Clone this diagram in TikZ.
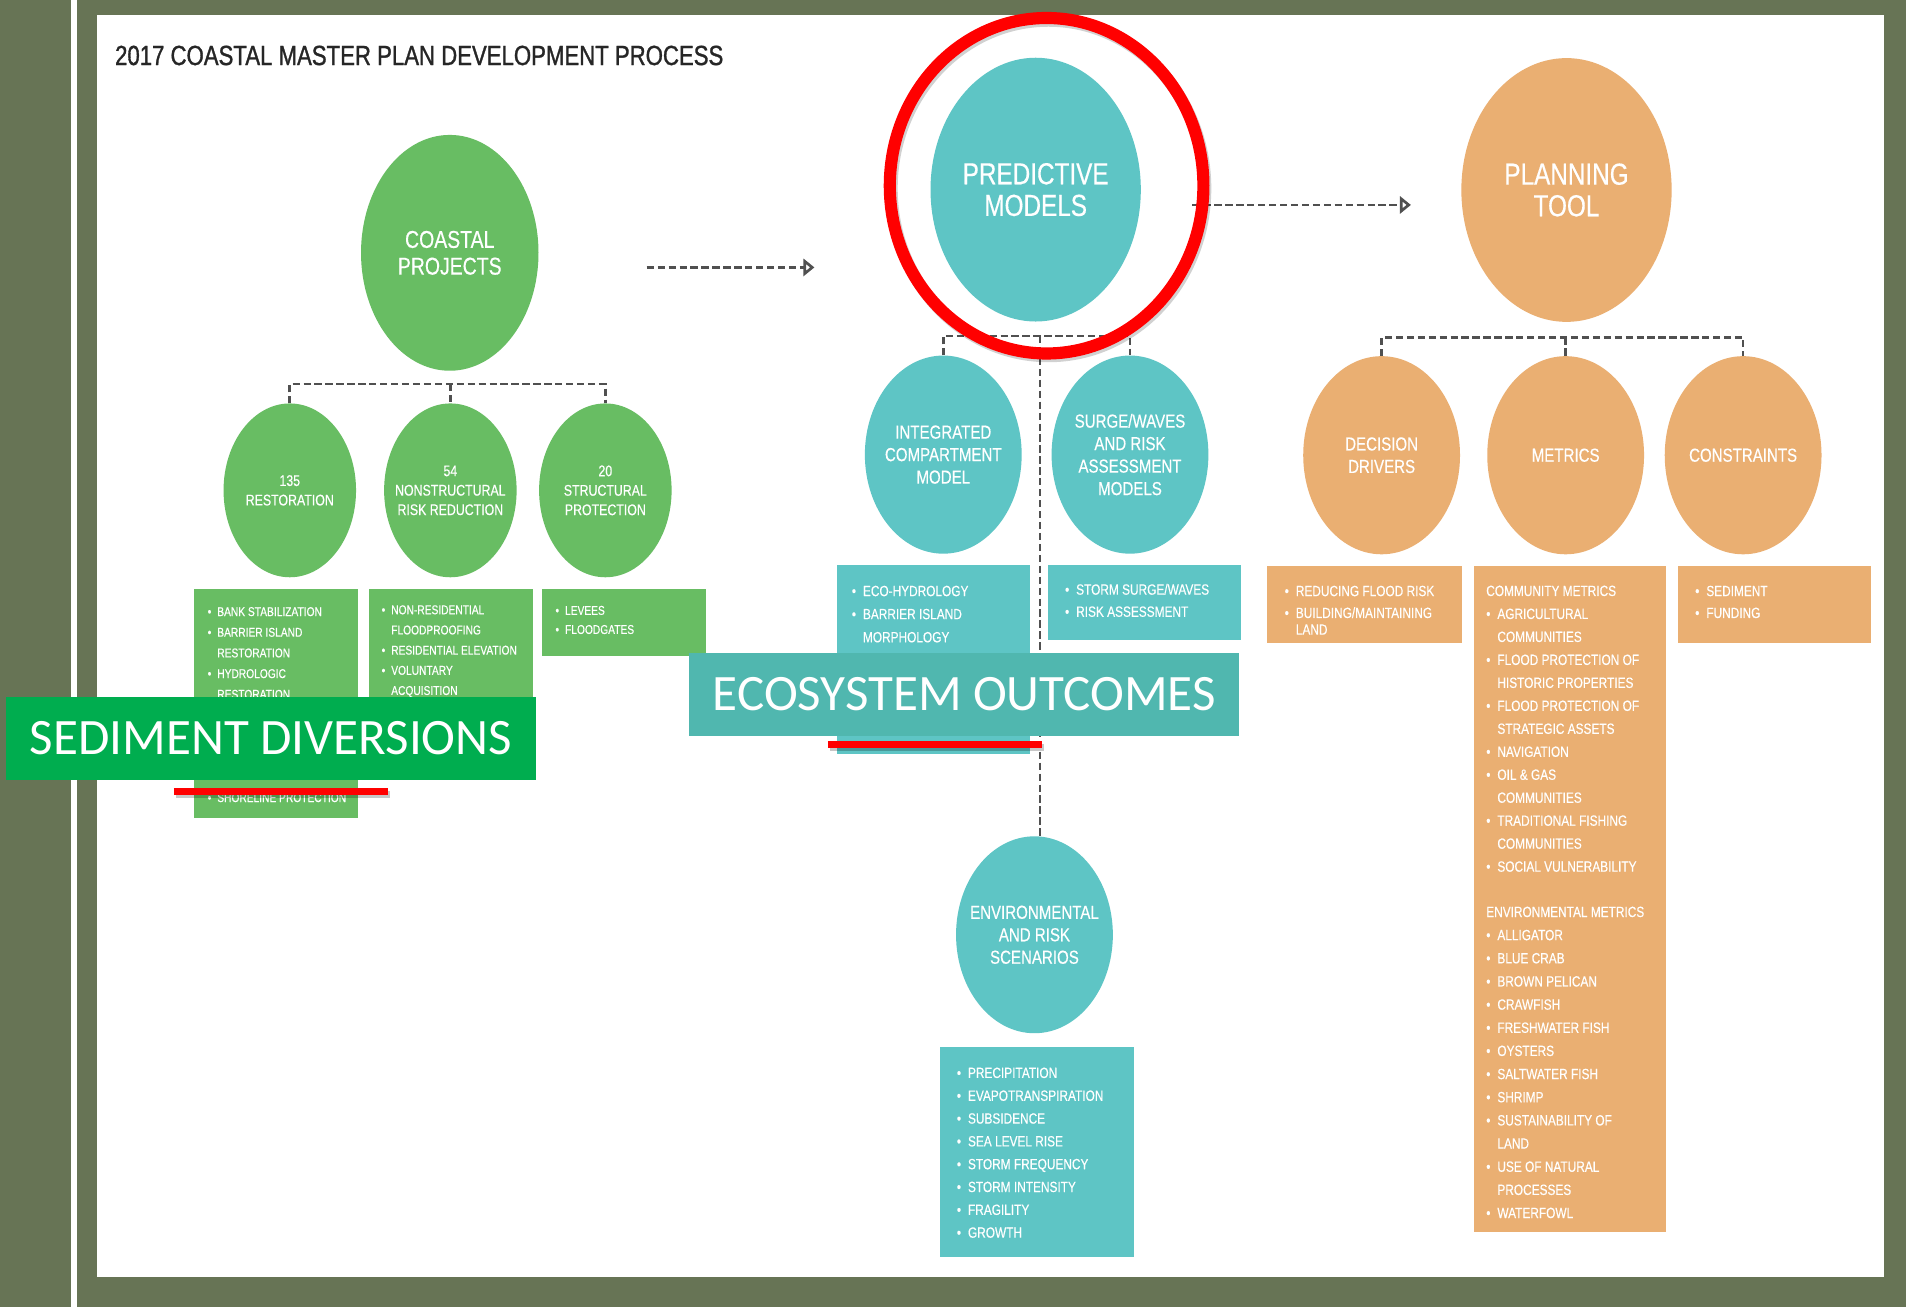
\documentclass[tikz,border=0pt]{standalone}
\usepackage{fontspec}
\setmainfont{Liberation Sans}
\newfontfamily\condfont{Liberation Sans}[FakeStretch=0.8,FakeBold=0.4]
\newfontfamily\titlefont{Liberation Sans}[FakeStretch=0.8,FakeBold=1.1]
\newfontfamily\banfont{Carlito}
\usetikzlibrary{arrows.meta,shapes.geometric}
\definecolor{framegreen}{RGB}{103,116,85}
\definecolor{projgreen}{RGB}{104,189,99}
\definecolor{modelteal}{RGB}{94,197,197}
\definecolor{toolorange}{RGB}{234,175,114}
\definecolor{bangreen}{RGB}{0,173,79}
\definecolor{banteal}{RGB}{80,183,175}
\definecolor{dashgray}{RGB}{80,80,80}
\newcommand{\setfs}[2]{\fontsize{#1}{#2}\selectfont}
\newcommand{\bul}{\makebox[0.75em][l]{\textbullet}}
\newcommand{\ind}{\hspace*{0.75em}}

\begin{document}
\begin{tikzpicture}[x=1pt,y=-1pt,
    ell/.style={ellipse,inner sep=0pt},
    bigell/.style={ell,minimum width=173pt,minimum height=217pt},
    subell/.style={ell,minimum width=129pt,minimum height=163pt},
    grnell/.style={ell,fill=projgreen,minimum width=109pt,minimum height=143pt},
    bigtxt/.style={text=white,align=center,inner sep=0pt,font=\condfont\setfs{25}{26}},
    subtxt/.style={text=white,align=center,inner sep=0pt,font=\condfont\setfs{15.5}{18.5}},
    grntxt/.style={text=white,align=center,inner sep=0pt,font=\condfont\setfs{12.7}{16}},
    listbox/.style={rectangle,inner sep=0pt,anchor=north west},
    itm/.style={text=white,inner sep=0pt,anchor=base west,font=\condfont\setfs{12.2}{14}},
    gitm/.style={itm,font=\condfont\setfs{10.5}{12}},
    dashln/.style={draw=dashgray,line width=2.2pt,dash pattern=on 6pt off 3pt},
    dasharr/.style={dashln,-{Triangle[open,length=9pt,width=14pt]}},
    banner/.style={rectangle,inner sep=0pt,anchor=north west,text=white,font=\banfont\setfs{42}{48}},
    uline/.style={draw=red,line width=6pt},
    ushadow/.style={draw=black,opacity=0.22,line width=6pt,shift={(1.5,2.5)}}]
  \useasboundingbox (0,0) rectangle (1568,1075);
  % frame and page
  \fill[framegreen] (0,0) rectangle (1568,1075);
  \fill[white] (58.4,0) rectangle (63.1,1075);
  \fill[white] (79.8,12.3) rectangle (1550,1050.5);
  \node[anchor=base west,inner sep=0pt,text=black!85,font=\titlefont\setfs{22.8}{27}] (title) at (94.5,53.5)
    {2017 COASTAL MASTER PLAN DEVELOPMENT PROCESS};

  % flow arrows between the three stages
  \coordinate (flow1s) at (532,220);
  \coordinate (flow1e) at (670,220);
  \coordinate (flow2s) at (981,168.6);
  \coordinate (flow2e) at (1160.7,168.6);
  \draw[dasharr] (flow1s) -- (flow1e);
  \draw[dasharr] (flow2s) -- (flow2e);

  % stage ellipses
  \node[ell,fill=projgreen,minimum width=146pt,minimum height=194pt] (cproj) at (370,208) {};
  \node[bigtxt,font=\condfont\setfs{20}{22}] (cproj-t) at (cproj) {COASTAL\\PROJECTS};
  \node[bigell,fill=modelteal] (pmod) at (852,156) {};
  \node[bigtxt] (pmod-t) at (pmod) {PREDICTIVE\\MODELS};
  \node[bigell,fill=toolorange] (ptool) at (1288.7,156.3) {};
  \node[bigtxt] (ptool-t) at (ptool) {PLANNING\\TOOL};

  % coastal projects branch
  \node[grnell] (r135) at (238.4,403.4) {};
  \node[grntxt] (r135-t) at (r135) {135\\RESTORATION};
  \node[grnell] (n54) at (370.5,403.4) {};
  \node[grntxt] (n54-t) at (n54) {54\\NONSTRUCTURAL\\RISK REDUCTION};
  \node[grnell] (s20) at (498,403.4) {};
  \node[grntxt] (s20-t) at (s20) {20\\STRUCTURAL\\PROTECTION};
  \coordinate (gbar) at (370.5,316);
  \draw[dashln] (r135.north) |- (gbar) -| (s20.north);
  \draw[dashln] (gbar) -- (n54.north);

  % predictive models branch
  \node[subell,fill=modelteal] (icm) at (776,374) {};
  \node[subtxt] (icm-t) at (icm) {INTEGRATED\\COMPARTMENT\\MODEL};
  \node[subell,fill=modelteal] (surge) at (929.6,374) {};
  \node[subtxt] (surge-t) at (surge) {SURGE/WAVES\\AND RISK\\ASSESSMENT\\MODELS};
  \node[subell,fill=modelteal,minimum height=162pt] (env) at (851,769) {};
  \node[subtxt] (env-t) at (env) {ENVIRONMENTAL\\AND RISK\\SCENARIOS};
  \coordinate (tbar) at (855.5,276.4);
  \draw[dashln] (icm.north) |- (tbar) -| (surge.north);
  \draw[dashln] (tbar) -- (tbar |- env.north);

  % planning tool branch
  \node[subell,fill=toolorange] (ddrv) at (1136.6,374.5) {};
  \node[subtxt] (ddrv-t) at (ddrv) {DECISION\\DRIVERS};
  \node[subell,fill=toolorange] (metr) at (1288,374.5) {};
  \node[subtxt] (metr-t) at (metr) {METRICS};
  \node[subell,fill=toolorange] (cons) at (1434,374.5) {};
  \node[subtxt] (cons-t) at (cons) {CONSTRAINTS};
  \coordinate (obar) at (1288,277.5);
  \draw[dashln] (ddrv.north) |- (obar) -| (cons.north);
  \draw[dashln] (obar) -- (metr.north);

  % project lists
  \node[listbox,fill=projgreen,minimum width=135pt,minimum height=189pt] (glist1) at (159,484) {};
  \node[listbox,fill=projgreen,minimum width=135.5pt,minimum height=136pt] (glist2) at (303,484) {};
  \node[listbox,fill=projgreen,minimum width=134.6pt,minimum height=55.7pt] (glist3) at (446,484) {};
  \foreach \y/\t [count=\i] in {503/\bul BANK STABILIZATION, 520/\bul BARRIER ISLAND,
      537/\ind RESTORATION, 554/\bul HYDROLOGIC, 571/\ind RESTORATION, 656/\bul SHORELINE PROTECTION}
    \node[gitm] (g1-\i) at (170.7,\y+3.8) {\t};
  \foreach \t [count=\i from 0] in {\bul NON-RESIDENTIAL, \ind FLOODPROOFING,
      \bul RESIDENTIAL ELEVATION, \bul VOLUNTARY, \ind ACQUISITION}
    \node[gitm] (g2-\i) at (313.8,501.5+16.6*\i+3.8) {\t};
  \foreach \t [count=\i from 0] in {\bul LEVEES, \bul FLOODGATES}
    \node[gitm] (g3-\i) at (456.8,502+15.7*\i+3.8) {\t};

  % model lists
  \node[listbox,fill=modelteal,minimum width=159pt,minimum height=155.5pt] (tlist1) at (688.3,464.8) {};
  \node[listbox,fill=modelteal,minimum width=159.2pt,minimum height=61.7pt] (tlist2) at (861.8,464.8) {};
  \node[listbox,fill=modelteal,minimum width=159.6pt,minimum height=172.8pt] (tlist3) at (773.3,861) {};
  \foreach \t [count=\i from 0] in {\bul ECO-HYDROLOGY, \bul BARRIER ISLAND, \ind MORPHOLOGY}
    \node[itm] (t1-\i) at (700.6,486+19*\i+4.4) {\t};
  \foreach \t [count=\i from 0] in {\bul STORM SURGE/WAVES, \bul RISK ASSESSMENT}
    \node[itm] (t2-\i) at (876,484.8+18.2*\i+4.4) {\t};
  \foreach \t [count=\i from 0] in {\bul PRECIPITATION, \bul EVAPOTRANSPIRATION, \bul SUBSIDENCE,
      \bul SEA LEVEL RISE, \bul STORM FREQUENCY, \bul STORM INTENSITY, \bul FRAGILITY, \bul GROWTH}
    \node[itm] (t3-\i) at (787,882.4+18.77*\i+4.4) {\t};

  % planning lists
  \node[listbox,fill=toolorange,minimum width=160pt,minimum height=63.3pt] (olist1) at (1042.4,465.4) {};
  \node[listbox,fill=toolorange,minimum width=158.3pt,minimum height=547.8pt] (olist2) at (1212.2,465.4) {};
  \node[listbox,fill=toolorange,minimum width=158.6pt,minimum height=63.3pt] (olist3) at (1380.4,465.4) {};
  \foreach \y/\t [count=\i] in {486/\bul REDUCING FLOOD RISK, 504/\bul BUILDING\slash MAINTAINING, 517.7/\ind LAND}
    \node[itm] (o1-\i) at (1056.7,\y+4.4) {\t};
  \foreach \t [count=\i from 0] in {COMMUNITY METRICS, \bul AGRICULTURAL, \ind COMMUNITIES,
      \bul FLOOD PROTECTION OF, \ind HISTORIC PROPERTIES, \bul FLOOD PROTECTION OF,
      \ind STRATEGIC ASSETS, \bul NAVIGATION, \bul OIL \& GAS, \ind COMMUNITIES,
      \bul TRADITIONAL FISHING, \ind COMMUNITIES, \bul SOCIAL VULNERABILITY}
    \node[itm] (o2c-\i) at (1222.5,485.9+18.9*\i+4.4) {\t};
  \foreach \t [count=\i from 0] in {ENVIRONMENTAL METRICS, \bul ALLIGATOR, \bul BLUE CRAB,
      \bul BROWN PELICAN, \bul CRAWFISH, \bul FRESHWATER FISH, \bul OYSTERS, \bul SALTWATER FISH,
      \bul SHRIMP, \bul SUSTAINABILITY OF, \ind LAND, \bul USE OF NATURAL, \ind PROCESSES, \bul WATERFOWL}
    \node[itm] (o2e-\i) at (1222.5,750+19.05*\i+4.4) {\t};
  \foreach \t [count=\i from 0] in {\bul SEDIMENT, \bul FUNDING}
    \node[itm] (o3-\i) at (1394.4,486+18*\i+4.4) {\t};

  % callouts
  \node[banner,fill=bangreen,minimum width=435.7pt,minimum height=68.7pt] (sedban) at (5,573) {SEDIMENT DIVERSIONS};
  \node[banner,fill=banteal,minimum width=452.3pt,minimum height=68.2pt] (ecoban) at (567,537) {ECOSYSTEM OUTCOMES};
  \draw[ushadow] (143,651) -- (319,651);
  \draw[ushadow] (681,612.7) -- (857,612.7);
  \draw[uline] (143,651) -- (319,651);
  \draw[uline] (681,612.7) -- (857,612.7);
  \node[ell,draw=black,opacity=0.18,line width=10pt,minimum width=258pt,minimum height=276pt] (ringshadow) at (862.5,155) {};
  \node[ell,draw=red,line width=10pt,minimum width=258pt,minimum height=276pt] (ring) at (861,152.8) {};
\end{tikzpicture}
\end{document}
